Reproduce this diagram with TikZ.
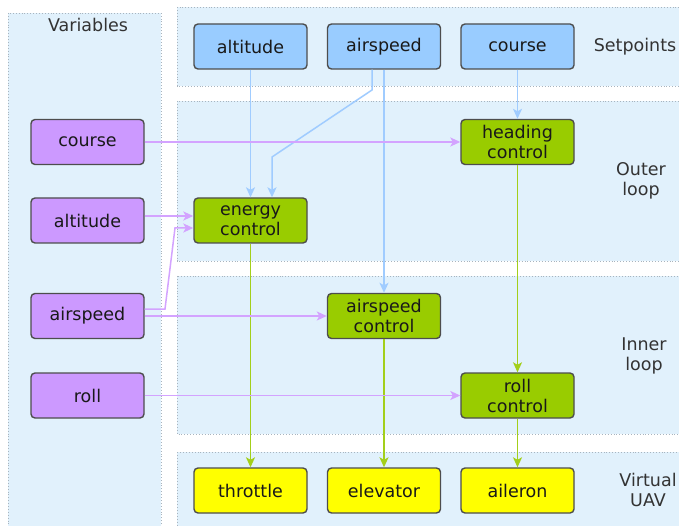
\documentclass[tikz,border=0pt]{standalone}
\usepackage{fontspec}
\setmainfont{DejaVu Sans}
\usetikzlibrary{arrows.meta,calc}
\definecolor{panel}{HTML}{E1F1FC}
\definecolor{panelborder}{HTML}{A8B4BE}
\definecolor{spblue}{HTML}{99CCFF}
\definecolor{varpurple}{HTML}{CC99FF}
\definecolor{ctrlgreen}{HTML}{99CC00}
\definecolor{outyellow}{HTML}{FFFF00}
\definecolor{nodeborder}{HTML}{4D4D4D}
\definecolor{labelgray}{HTML}{333333}
\definecolor{bluearrow}{HTML}{A0CCFF}
\definecolor{purplearrow}{HTML}{D3A3FF}
\definecolor{greenarrow}{HTML}{A3CF1A}
\tikzset{
  panelbox/.style={fill=panel,draw=panelborder,dotted,line width=0.9pt},
  basebox/.style={draw=nodeborder,line width=1.4pt,rounded corners=4pt,
    minimum width=113pt,minimum height=45pt,align=center,inner sep=0pt,
    font=\fontsize{17.5}{20}\selectfont,text=black!90},
  spbox/.style={basebox,fill=spblue},
  varbox/.style={basebox,fill=varpurple},
  ctrlbox/.style={basebox,fill=ctrlgreen},
  outbox/.style={basebox,fill=outyellow},
  grouplabel/.style={align=center,font=\fontsize{17.5}{20}\selectfont,text=labelgray},
  tip/.style={-{Stealth[length=10pt,width=9pt,inset=2.5pt]}},
  bluearr/.style={tip,draw=bluearrow,line width=1.5pt},
  purplearr/.style={tip,draw=purplearrow,line width=1.5pt},
  greenarr/.style={tip,draw=greenarrow,line width=1.5pt},
}
\begin{document}
\begin{tikzpicture}[x=1pt,y=-1pt]
\useasboundingbox (0,0) rectangle (679,526);
\clip (0,0) rectangle (679,526);
\fill[white] (0,0) rectangle (679,526);
% panels
\draw[panelbox] (8,13) rectangle (161,540);
\draw[panelbox] (177,7) rectangle (700,86);
\draw[panelbox] (177,101) rectangle (700,261);
\draw[panelbox] (177,276) rectangle (700,434);
\draw[panelbox] (177,452) rectangle (700,540);
% group labels
\node[grouplabel] (lvar) at (88,25) {Variables};
\node[grouplabel] (lsp) at (635,46.5) {Setpoints};
\node[grouplabel] (lout) at (641,181) {Outer\\loop};
\node[grouplabel] (lin) at (644,356) {Inner\\loop};
\node[grouplabel] (lvirt) at (648,490) {Virtual\\UAV};
% setpoints
\node[spbox] (spalt) at (250.5,46.5) {altitude};
\node[spbox] (spair) at (384,46.5) {airspeed};
\node[spbox] (spcourse) at (517.5,46.5) {course};
% variables
\node[varbox] (vcourse) at (87.5,142) {course};
\node[varbox] (valt) at (87.5,220.5) {altitude};
\node[varbox] (vair) at (87.5,316) {airspeed};
\node[varbox] (vroll) at (87.5,395.5) {roll};
% controls
\node[ctrlbox] (energy) at (250.5,220.5) {energy\\control};
\node[ctrlbox] (heading) at (517.5,142) {heading\\control};
\node[ctrlbox] (airctrl) at (384,316) {airspeed\\control};
\node[ctrlbox] (rollctrl) at (517.5,395.5) {roll\\control};
% outputs
\node[outbox] (throttle) at (250.5,490.5) {throttle};
\node[outbox] (elevator) at (384,490.5) {elevator};
\node[outbox] (aileron) at (517.5,490.5) {aileron};
% helper coordinates
\coordinate (b1) at (372,90);
\coordinate (b2) at (272,157);
\coordinate (p1) at (165,309);
\coordinate (p2) at (175,228);
% green arrows
\draw[greenarr] (energy) -- (throttle);
\draw[greenarr] (airctrl) -- (elevator);
\draw[greenarr] (heading) -- (rollctrl);
\draw[greenarr] (rollctrl) -- (aileron);
% blue arrows
\draw[bluearr] (spalt) -- (energy);
\draw[bluearr] (spcourse) -- (heading);
\draw[bluearr] (spair) -- (airctrl);
\draw[bluearr] ([xshift=-12pt]spair.south) -- (b1) -- (b2) -- ([xshift=21.5pt]energy.north);
% purple arrows
\draw[purplearr] (vcourse) -- (heading);
\draw[purplearr] ([yshift=4.5pt]valt.east) -- ([yshift=4.5pt]energy.west);
\draw[purplearr] ([yshift=7pt]vair.east) -- (p1) -- (p2) -- ([yshift=-7.5pt]energy.west);
\draw[purplearr] (vair) -- (airctrl);
\draw[purplearr] (vroll) -- (rollctrl);
\end{tikzpicture}
\end{document}
